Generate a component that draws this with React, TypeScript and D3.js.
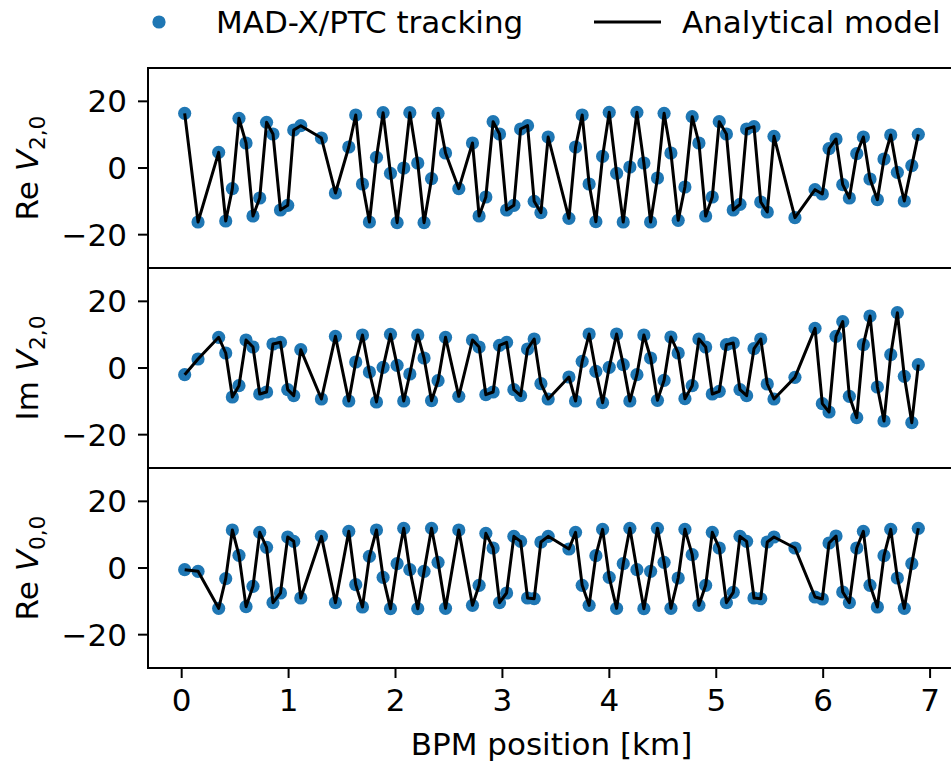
import React from 'react';
import * as d3 from 'd3';

const bpmPositionKm = [
  0.028, 0.153, 0.346, 0.412, 0.474, 0.536, 0.602, 0.667, 0.73, 0.794,
  0.854, 0.924, 0.992, 1.048, 1.114, 1.307, 1.438, 1.563, 1.628, 1.691,
  1.756, 1.822, 1.884, 1.953, 2.015, 2.077, 2.134, 2.208, 2.267, 2.337,
  2.398, 2.468, 2.592, 2.72, 2.782, 2.845, 2.913, 2.973, 3.039, 3.107,
  3.17, 3.235, 3.297, 3.36, 3.428, 3.622, 3.684, 3.746, 3.811, 3.874,
  3.937, 3.999, 4.068, 4.13, 4.192, 4.258, 4.323, 4.386, 4.45, 4.512,
  4.576, 4.644, 4.707, 4.775, 4.838, 4.901, 4.963, 5.028, 5.095, 5.159,
  5.222, 5.284, 5.353, 5.416, 5.477, 5.54, 5.736, 5.924, 5.992, 6.055,
  6.12, 6.183, 6.245, 6.314, 6.376, 6.438, 6.507, 6.569, 6.632, 6.694,
  6.759, 6.829, 6.89,
];

const reV20 = [
  16.4, -16.2, 4.7, -15.9, -6.2, 14.9, 7.5, -14.4, -9, 13.7,
  10.2, -12.6, -11.2, 11.4, 12.7, 9, -7.5, 6.3, 15.9, -4.8,
  -16.2, 3.2, 16.6, -1.6, -16.4, 0, 16.6, 1.5, -16.4, -3.2,
  16.4, 4.5, -6.2, 7.5, -14.4, -8.7, 13.9, 10.2, -12.6, -11.2,
  11.7, 12.7, -10, -13.4, 9.3, -15.1, 6.3, 15.9, -4.8, -16.1,
  3.5, 16.7, -1.6, -16.2, 0.3, 16.7, 1.5, -16.2, -3, 16.4,
  4.5, -15.7, -5.7, 15.4, 7.5, -14.4, -8.7, 13.9, 10.2, -12.6,
  -10.9, 11.7, 12.4, -10.2, -13.2, 9.5, -14.9, -6.5, -7.8, 5.8,
  8.7, -5, -9, 4.3, 9.3, -3.3, -9.5, 2.7, 9.9, -1.3,
  -9.9, 0.7, 10.1,
];

const imV20 = [
  -2, 2.7, 9.2, 4.5, -8.7, -5.3, 8.4, 6.3, -7.8, -7.2,
  7.2, 7.7, -6.5, -8.3, 5.5, -9.3, 9.5, -9.9, 1.8, 9.9,
  -1.2, -10.2, 0.2, 10.1, 0.8, -9.9, -1.8, 9.9, 3, -9.8,
  -3.8, 9.2, -8.5, 8.4, 6.3, -8, -7.2, 6.8, 7.7, -6.5,
  -8.3, 5.7, 8.7, -4.7, -9.3, -2.7, -9.9, 2, 10.2, -1,
  -10.4, 0.2, 10.2, 1, -9.9, -2, 9.9, 3, -9.7, -3.7,
  9.3, 4.5, -9.2, -5.3, 8.7, 6.3, -7.8, -7, 7, 7.5,
  -6.5, -8.3, 5.8, 8.7, -4.8, -9.3, -2.8, 11.9, -10.7, -13.2,
  9.5, 13.9, -8.5, -14.9, 7, 15.6, -5.7, -15.9, 4, 16.6,
  -2.5, -16.4, 1,
];

const reV00 = [
  -0.5, -1, -12.1, -3.2, 11.4, 3.8, -11.6, -5.5, 10.7, 6.2,
  -10.4, -7.5, 9.3, 8, -9, 9.5, -10.4, 11, -5, -11.7,
  3.5, 11.4, -2.8, -12.2, 1.3, 11.9, -0.5, -12.2, -1, 11.9,
  1.7, -12.1, 11.4, -11.2, -5.2, 10.4, 6, -10.4, -7.5, 9.5,
  8, -9, -9.2, 7.8, 9.5, 5.7, 10.7, -5.2, -11.2, 3.7,
  11.6, -2.8, -12.1, 1.3, 11.9, -0.5, -12.2, -1, 11.9, 1.7,
  -12.1, -3, 11.6, 4, -11.2, -5.2, 10.7, 6, -10.4, -7.3,
  9.5, 8, -9, -9.2, 7.8, 9.3, 6, -8.7, -9.3, 7.5,
  9.6, -7.2, -10.4, 6, 11, -5.2, -11.7, 3.7, 11.6, -3,
  -12.1, 1.3, 11.9,
];

const panelSeries = [reV20, imV20, reV00];
const panelLabelPrefix = ['Re ', 'Im ', 'Re '];
const panelLabelSub = ['2,0', '2,0', '0,0'];
const yTicks = [-20, 0, 20];
const xTicks = [0, 1, 2, 3, 4, 5, 6, 7];
const legendLabels = ['MAD-X/PTC tracking', 'Analytical model'];
const xLabel = 'BPM position [km]';

const W = 951;
const H = 763;
const left = 148;
const right = 955;
const panelTop = 68;
const panelH = 200;
const FONT = 'DejaVu Sans, sans-serif';
const FS = 31;
const BLUE = '#1f77b4';

const fmt = (v: number) => (v < 0 ? '\u2212' + Math.abs(v) : String(v));

export default function App() {
  const x = d3.scaleLinear().domain([-0.315, 7.233]).range([left, right]);
  return (
    <svg
      width={W}
      height={H}
      style={{ position: 'absolute', left: 0, top: 0, background: '#fff' }}
      fontFamily={FONT}
    >
      <rect x={0} y={0} width={W} height={H} fill="#fff" />
      {panelSeries.map((series, pi) => {
        const top = panelTop + pi * panelH;
        const y = d3.scaleLinear().domain([-30, 30]).range([top + panelH, top]);
        const pts: [number, number][] = bpmPositionKm.map((p, i) => [x(p), y(series[i])]);
        const line = d3.line()(pts) || '';
        return (
          <g key={pi}>
            <rect x={left} y={top} width={right - left} height={panelH} fill="#fff" />
            {pts.map(([px, py], i) => (
              <circle key={i} cx={px} cy={py} r={6.6} fill={BLUE} />
            ))}
            <path d={line} fill="none" stroke="#000" strokeWidth={3} strokeLinejoin="round" />
            <rect x={left} y={top} width={right - left} height={panelH} fill="none" stroke="#000" strokeWidth={2} />
            {yTicks.map((t) => (
              <g key={t}>
                <line x1={left - 10} x2={left} y1={y(t)} y2={y(t)} stroke="#000" strokeWidth={2} />
                <text x={127} y={y(t)} dy="0.36em" textAnchor="end" fontSize={FS}>
                  {fmt(t)}
                </text>
              </g>
            ))}
            <text
              transform={`translate(38, ${top + panelH / 2}) rotate(-90)`}
              textAnchor="middle"
              fontSize={FS}
            >
              {panelLabelPrefix[pi]}
              <tspan fontStyle="italic">V</tspan>
              <tspan fontSize={FS * 0.7} dy={7}>
                {panelLabelSub[pi]}
              </tspan>
            </text>
          </g>
        );
      })}
      {xTicks.map((t) => (
        <g key={t}>
          <line x1={x(t)} x2={x(t)} y1={panelTop + 3 * panelH} y2={panelTop + 3 * panelH + 10} stroke="#000" strokeWidth={2} />
          <text x={x(t)} y={711} textAnchor="middle" fontSize={FS}>
            {t}
          </text>
        </g>
      ))}
      <text x={(left + right) / 2} y={755} textAnchor="middle" fontSize={FS}>
        {xLabel}
      </text>
      <g>
        <circle cx={159} cy={22} r={6.6} fill={BLUE} />
        <text x={216} y={33} fontSize={FS}>
          {legendLabels[0]}
        </text>
        <line x1={594} x2={661} y1={22} y2={22} stroke="#000" strokeWidth={3} />
        <text x={682} y={33} fontSize={FS}>
          {legendLabels[1]}
        </text>
      </g>
    </svg>
  );
}
